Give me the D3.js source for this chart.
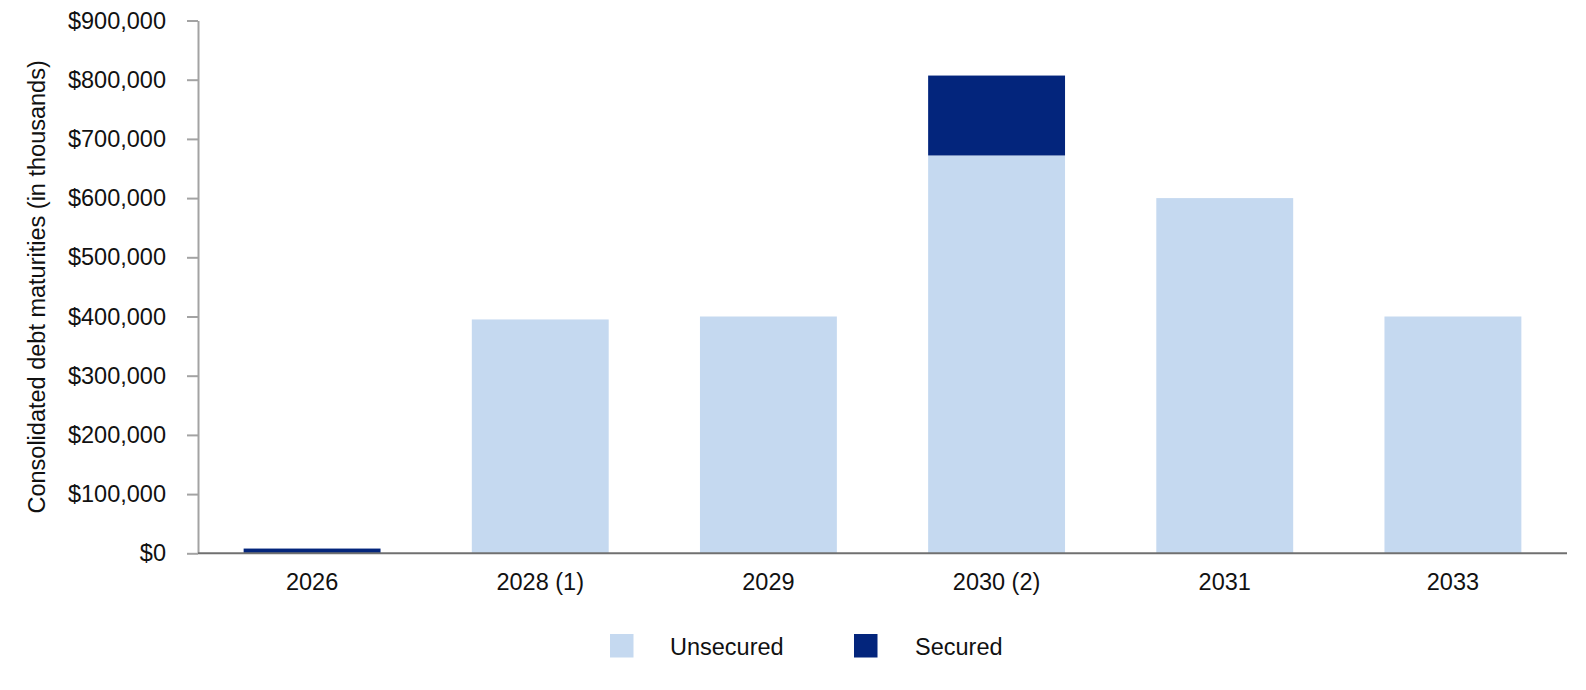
<!DOCTYPE html>
<html>
<head>
<meta charset="utf-8">
<script src="https://cdn.jsdelivr.net/npm/d3@7"></script>
<style>
  html, body { margin: 0; padding: 0; background: #ffffff; }
  svg { display: block; font-family: "Liberation Sans", Arial, sans-serif; }
  .lbl { font-size: 23.5px; fill: #111; }
</style>
</head>
<body>
<svg id="chart" width="1586" height="690"></svg>
<script>
const categories = ["2026", "2028 (1)", "2029", "2030 (2)", "2031", "2033"];
const unsecured = [0, 395000, 400000, 672000, 600000, 400000];
const secured = [8000, 0, 0, 135000, 0, 0];
const seriesNames = ["Unsecured", "Secured"];
const seriesColors = ["#C5D9F0", "#03257C"];
const yTickValues = [0, 100000, 200000, 300000, 400000, 500000, 600000, 700000, 800000, 900000];
const yTitle = "Consolidated debt maturities (in thousands)";

const W = 1586, H = 690;
const margin = { top: 20.5, right: 19, bottom: H - 553.3, left: 198 };
const svg = d3.select("#chart");

const x = d3.scaleBand()
  .domain(categories)
  .range([margin.left, W - margin.right])
  .paddingInner(0.4)
  .paddingOuter(0.2);

const y = d3.scaleLinear()
  .domain([0, 900000])
  .range([H - margin.bottom, margin.top]);

const rows = categories.map((c, i) => ({ cat: c, Unsecured: unsecured[i], Secured: secured[i] }));
const stack = d3.stack().keys(seriesNames)(rows);

// bars
svg.append("g").selectAll("g")
  .data(stack)
  .join("g")
  .attr("fill", (d, i) => seriesColors[i])
  .selectAll("rect")
  .data(d => d)
  .join("rect")
  .attr("x", d => x(d.data.cat))
  .attr("width", x.bandwidth())
  .attr("y", d => y(d[1]))
  .attr("height", d => Math.max(0, y(d[0]) - y(d[1])));

// y axis
const yAxis = svg.append("g")
  .attr("transform", `translate(${margin.left},0)`)
  .call(d3.axisLeft(y)
    .tickValues(yTickValues)
    .tickSize(11)
    .tickSizeOuter(0)
    .tickPadding(21)
    .tickFormat(d => "$" + d3.format(",")(d)));
yAxis.select(".domain").attr("stroke", "#A3A3A3").attr("stroke-width", 2);
yAxis.selectAll(".tick line").attr("stroke", "#A3A3A3").attr("stroke-width", 2);
yAxis.selectAll(".tick text")
  .attr("class", "lbl")
  .attr("font-size", null)
  .attr("font-family", null)
  .attr("fill", "#111");

// x axis line
svg.append("line")
  .attr("x1", margin.left)
  .attr("x2", W - margin.right)
  .attr("y1", y(0))
  .attr("y2", y(0))
  .attr("stroke", "#707070")
  .attr("stroke-width", 2);

// x labels
svg.append("g").selectAll("text")
  .data(categories)
  .join("text")
  .attr("class", "lbl")
  .attr("x", d => x(d) + x.bandwidth() / 2)
  .attr("y", 590)
  .attr("text-anchor", "middle")
  .text(d => d);

// y title
svg.append("text")
  .attr("class", "lbl")
  .attr("transform", `translate(45,${(margin.top + y(0)) / 2}) rotate(-90)`)
  .attr("text-anchor", "middle")
  .text(yTitle);

// legend
const legendX = [610, 854];
const leg = svg.append("g").selectAll("g")
  .data(seriesNames)
  .join("g")
  .attr("transform", (d, i) => `translate(${legendX[i]},634)`);
leg.append("rect")
  .attr("width", 23.5)
  .attr("height", 23.5)
  .attr("fill", (d, i) => seriesColors[i]);
leg.append("text")
  .attr("class", "lbl")
  .attr("x", (d, i) => i === 0 ? 60 : 61)
  .attr("y", 21)
  .text(d => d);
</script>
</body>
</html>
